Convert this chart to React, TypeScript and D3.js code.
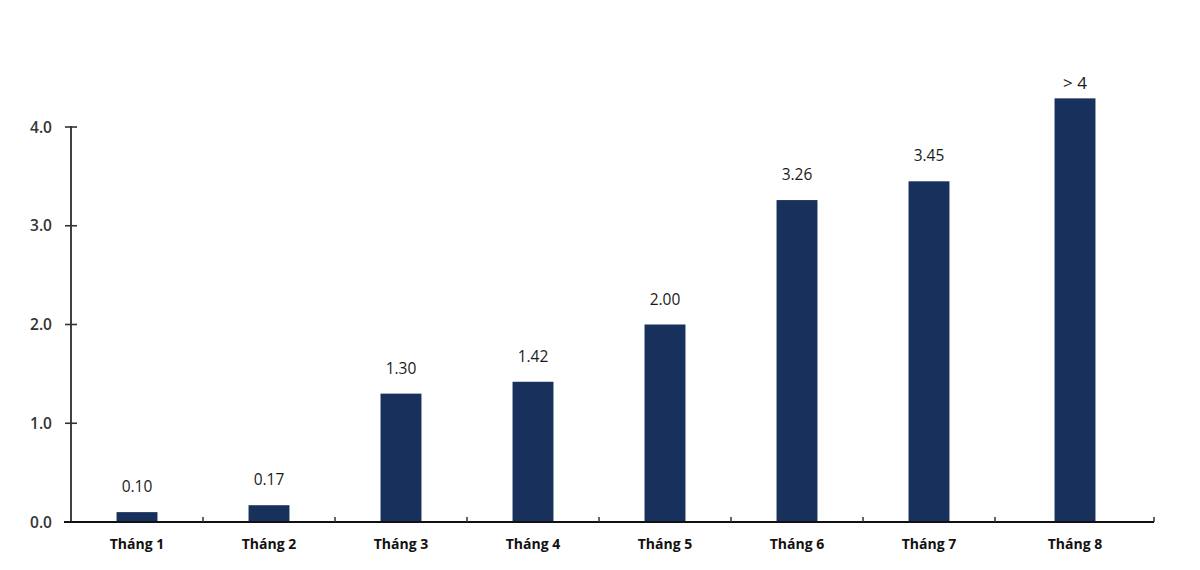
import React from "react";
import * as d3 from "d3";

const categories = ["Tháng 1", "Tháng 2", "Tháng 3", "Tháng 4", "Tháng 5", "Tháng 6", "Tháng 7", "Tháng 8"];
const values = [0.1, 0.17, 1.3, 1.42, 2.0, 3.26, 3.45, 4.29];
const valueLabels = ["0.10", "0.17", "1.30", "1.42", "2.00", "3.26", "3.45", "> 4"];
const yTicks = [0, 1, 2, 3, 4];

const W = 1200;
const H = 570;
const axisX = 71;
const baseY = 522;
const BAR = "#17305c";
const FONT = "'Open Sans', 'Noto Sans', sans-serif";

export default function App() {
  const y = d3.scaleLinear().domain([0, 4]).range([baseY, 127]);
  const x = d3.scaleBand<string>().domain(categories).range([axisX, axisX + 132 * 8]).paddingInner(0.69).paddingOuter(0.345);
  const axisEnd = 1154;
  const bw = x.bandwidth();
  const step = x.step();
  const boundaries = categories.slice(1).map((c) => (x(c) as number) - (step - bw) / 2);
  boundaries.push(axisEnd);
  return (
    <div style={{ margin: -8 }}>
      <svg width={W} height={H} style={{ display: "block", background: "#fff" }} fontFamily={FONT}>
        {categories.map((c, i) => {
          const bx = x(c) as number;
          const isLast = i === categories.length - 1;
          const shift = isLast ? 14 : 0;
          const top = y(values[i]);
          return (
            <g key={c}>
              <rect x={bx + shift} y={top} width={bw} height={baseY - top} fill={BAR} />
              <text
                x={bx + shift + bw / 2}
                y={isLast ? top - 9 : top - 20}
                textAnchor="middle"
                fontSize={isLast ? 17 : 15.5}
                fill="#1a1a1a"
              >
                {valueLabels[i]}
              </text>
              <text x={bx + shift + bw / 2} y={549} textAnchor="middle" fontSize={14} fontWeight={700} fill="#111">
                {c}
              </text>
            </g>
          );
        })}
        {/* y axis */}
        <line x1={axisX} x2={axisX} y1={y(4) - 1} y2={baseY} stroke="#111" strokeWidth={1.6} />
        {yTicks.map((t) => (
          <g key={t}>
            <line x1={axisX - 6} x2={axisX + 6} y1={y(t)} y2={y(t)} stroke="#333" strokeWidth={1.6} />
            <text x={52} y={y(t) + 5.5} textAnchor="end" fontSize={15.5} fontWeight={600} fill="#333">
              {d3.format(".1f")(t)}
            </text>
          </g>
        ))}
        {/* x axis */}
        <line x1={64} x2={axisEnd} y1={baseY} y2={baseY} stroke="#111" strokeWidth={2} />
        {boundaries.map((b, i) => (
          <line key={i} x1={b} x2={b} y1={baseY - 5} y2={baseY} stroke="#333" strokeWidth={1.5} />
        ))}
      </svg>
    </div>
  );
}
